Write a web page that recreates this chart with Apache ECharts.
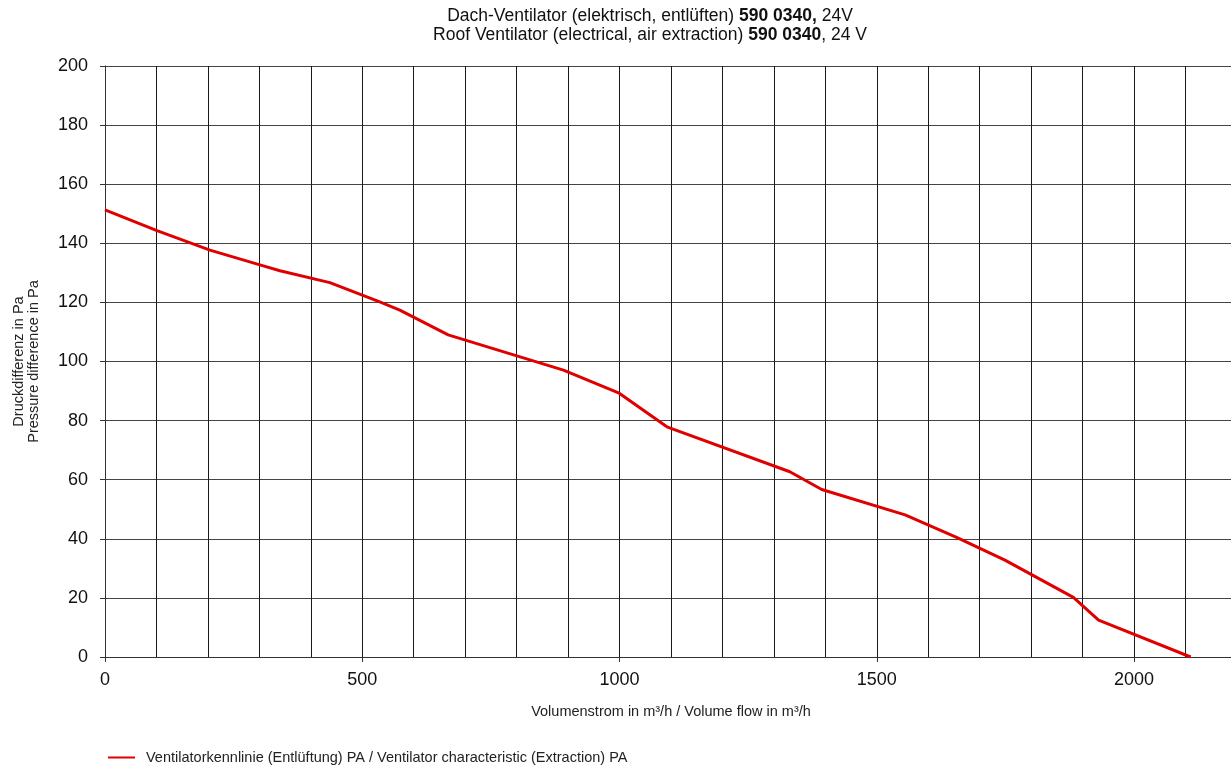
<!DOCTYPE html>
<html>
<head>
<meta charset="utf-8">
<title>Dach-Ventilator 590 0340</title>
<script src="https://cdn.jsdelivr.net/npm/echarts@6/dist/echarts.min.js"></script>
<style>
  html, body { margin: 0; padding: 0; background: #fff; overflow: hidden; }
  #chart { width: 1237px; height: 768px; }
</style>
</head>
<body>
<div id="chart"></div>
<script>
// Volumenstrom (m³/h) und Druckdifferenz (Pa)
var flow = [0, 101, 204, 301, 340, 437, 534, 573, 667, 891, 998, 1092, 1331, 1393, 1555, 1655, 1749, 1882, 1931, 2110];
var pressure = [151.3, 144.3, 137.7, 132.7, 130.7, 126.7, 120.2, 117.4, 109, 97.1, 89.4, 77.9, 62.7, 56.7, 48.1, 40.5, 32.8, 20.2, 12.5, 0];
var xTicks = [0, 500, 1000, 1500, 2000];
var yTicks = [0, 20, 40, 60, 80, 100, 120, 140, 160, 180, 200];

var seriesName = 'Ventilatorkennlinie (Entlüftung) PA / Ventilator characteristic (Extraction) PA';
var font = '"Liberation Sans", Arial, sans-serif';

var points = [];
for (var i = 0; i < flow.length; i++) {
  points.push([flow[i], pressure[i]]);
}

var chart = echarts.init(document.getElementById('chart'));
chart.setOption({
  animation: false,
  textStyle: { fontFamily: font },
  title: {
    left: 645,
    top: 2,
    textAlign: 'center',
    text: '{n|Dach-Ventilator (elektrisch, entlüften) }{b|590 0340,}{n| 24V}\n' +
          '{n|Roof Ventilator (electrical, air extraction) }{b|590 0340}{n|, 24 V}',
    textStyle: {
      fontWeight: 'normal',
      rich: {
        n: { fontSize: 17.5, color: '#111', fontFamily: font, fontWeight: 'normal', lineHeight: 19 },
        b: { fontSize: 17.5, color: '#111', fontFamily: font, fontWeight: 'bold', lineHeight: 19 }
      }
    }
  },
  legend: {
    left: 103,
    top: 745,
    icon: 'rect',
    itemWidth: 27,
    itemHeight: 2,
    textStyle: { fontSize: 14.5, color: '#222', fontFamily: font, padding: [0, 0, 0, 6] },
    data: [seriesName]
  },
  grid: { left: 105, right: 0, top: 66, bottom: 111 },
  xAxis: [{
    // Beschriftung und Striche alle 500
    type: 'value',
    min: 0,
    max: 2200,
    interval: 500,
    name: 'Volumenstrom in m³/h / Volume flow in m³/h',
    nameLocation: 'middle',
    nameGap: 47,
    nameTextStyle: { fontSize: 14.5, color: '#222', fontFamily: font },
    axisLine: { show: true, lineStyle: { color: '#333', width: 1 } },
    axisTick: { show: true, length: 5, lineStyle: { color: '#333' } },
    axisLabel: {
      fontSize: 18, color: '#111', margin: 14, showMaxLabel: false,
      formatter: function (v) { return xTicks.indexOf(v) >= 0 ? String(v) : ''; }
    },
    splitLine: { show: false }
  }, {
    // Gitterlinien alle 100
    type: 'value',
    min: 0,
    max: 2200,
    interval: 100,
    position: 'bottom',
    axisLine: { show: false },
    axisTick: { show: false },
    axisLabel: { show: false },
    splitLine: { show: true, lineStyle: { color: '#1a1a1a', width: 1 } }
  }],
  yAxis: {
    type: 'value',
    min: 0,
    max: 200,
    interval: 20,
    name: 'Druckdifferenz in Pa\nPressure difference in Pa',
    nameLocation: 'middle',
    nameGap: 64,
    nameRotate: 90,
    nameTextStyle: { fontSize: 14.5, color: '#222', fontFamily: font, lineHeight: 15 },
    axisLine: { show: true, lineStyle: { color: '#333', width: 1 } },
    axisTick: { show: true, length: 5, lineStyle: { color: '#333' } },
    axisLabel: {
      fontSize: 18, color: '#111', margin: 17,
      formatter: function (v) { return yTicks.indexOf(v) >= 0 ? String(v) : ''; }
    },
    splitLine: { show: true, lineStyle: { color: '#444', width: 1 } }
  },
  series: [{
    name: seriesName,
    type: 'line',
    xAxisIndex: 0,
    data: points,
    symbol: 'none',
    lineStyle: { color: '#e00000', width: 3 },
    itemStyle: { color: '#e00000' },
    z: 5
  }]
});
</script>
</body>
</html>
